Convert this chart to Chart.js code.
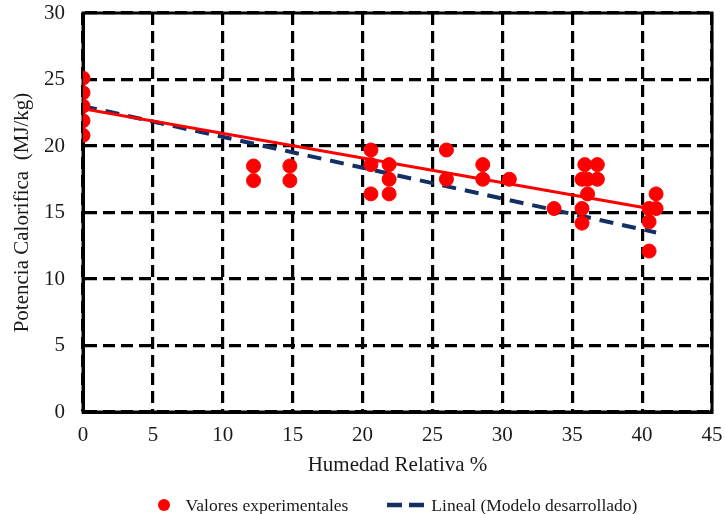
<!DOCTYPE html>
<html>
<head>
<meta charset="utf-8">
<script src="https://cdn.jsdelivr.net/npm/chart.js@4.4.0/dist/chart.umd.min.js"></script>
<style>
  html,body{margin:0;padding:0;background:#fff;}
  #wrap{position:relative;width:725px;height:514px;}
  #legend{position:absolute;left:83px;width:629px;top:494px;height:22px;
          display:flex;justify-content:center;align-items:center;
          font-family:'Liberation Serif','DejaVu Serif',serif;font-size:17.5px;color:#1a1a1a;white-space:nowrap;}
  #legend .item{display:flex;align-items:center;}
  #legend .item + .item{margin-left:39px;}
  #legend .dot{width:12px;height:12px;border-radius:50%;margin-right:16px;}
  #legend svg{margin-right:7px;}
</style>
</head>
<body>
<div id="wrap">
  <canvas id="chart" width="725" height="514"></canvas>
  <div id="legend"></div>
</div>
<script>
/* ---- datos ---- */
const humedad  = [0,0,0,0,0, 12.2,12.2, 14.8,14.8, 20.6,20.6,20.6, 21.9,21.9,21.9,
                  26.0,26.0, 28.6,28.6, 30.5, 33.7, 35.7,35.7,35.7, 35.9,36.1,36.1,
                  36.8,36.8, 40.5,40.5,40.5, 41.0,41.0];
const potencia = [25.1,24.0,23.0,21.9,20.8, 18.5,17.4, 18.5,17.4, 19.7,18.6,16.4, 18.6,17.5,16.4,
                  19.7,17.5, 18.6,17.5, 17.5, 15.3, 17.5,15.3,14.2, 18.6,17.5,16.4,
                  18.6,17.5, 15.3,14.3,12.1, 16.4,15.3];

// tendencia de los datos experimentales (roja)
const tendX = [0, 40.5];
const tendY = [22.8, 15.3];
// modelo desarrollado (azul discontinuo)
const modeloX = [0, 41.0];
const modeloY = [23.0, 13.5];

const xTicks = [0,5,10,15,20,25,30,35,40,45];
const yTicks = [0,5,10,15,20,25,30];

const pts = (xs,ys)=>xs.map((x,i)=>({x, y:ys[i]}));

const ROJO = '#ff0000', AZUL = '#132f64';
const serif = "'Liberation Serif', 'DejaVu Serif', serif";

/* ---- marco ---- */
const frame = {
  id:'frame',
  beforeDatasetsDraw(c){
    const a=c.chartArea, g=c.ctx;
    g.save();
    g.strokeStyle='#000'; g.lineWidth=3;
    g.strokeRect(a.left, a.top, a.right-a.left, a.bottom-a.top);
    g.restore();
  }
};

const chart = new Chart(document.getElementById('chart'),{
  type:'scatter',
  data:{
    datasets:[
      { label:'Valores experimentales', data:pts(humedad,potencia),
        backgroundColor:ROJO, borderColor:ROJO, pointRadius:7, pointHoverRadius:7, order:1 },
      { label:'Tendencia', type:'line', data:pts(tendX,tendY), showLine:true,
        borderColor:ROJO, borderWidth:3, pointRadius:0, order:2 },
      { label:'Lineal (Modelo desarrollado)', type:'line', data:pts(modeloX,modeloY), showLine:true,
        borderColor:AZUL, backgroundColor:AZUL, borderWidth:4, borderDash:[14,9], pointRadius:0, order:3 }
    ]
  },
  options:{
    responsive:false,
    animation:false,
    layout:{ padding:{ top:13, right:13, left:0, bottom:0 } },
    scales:{
      x:{
        type:'linear', min:0, max:45,
        afterBuildTicks:s=>{ s.ticks = xTicks.map(v=>({value:v})); },
        afterFit:s=>{ s.height = 102; s.paddingLeft = 0; s.paddingRight = 0; },
        grid:{ color:'#000', lineWidth:3.2, drawTicks:false },
        border:{ display:true, color:'#000', width:3, dash:[12,6] },
        ticks:{ font:{ family:serif, size:21 }, color:'#1a1a1a', padding:11 },
        title:{ display:true, text:'Humedad Relativa %', font:{ family:serif, size:21 }, color:'#1a1a1a', padding:{top:0,bottom:36} }
      },
      y:{
        type:'linear', min:0, max:30,
        afterBuildTicks:s=>{ s.ticks = yTicks.map(v=>({value:v})); },
        afterFit:s=>{ s.width = 83; s.paddingTop = 0; s.paddingBottom = 0; },
        grid:{ color:'#000', lineWidth:3.2, drawTicks:false },
        border:{ display:true, color:'#000', width:3, dash:[12,6] },
        ticks:{ font:{ family:serif, size:21 }, color:'#1a1a1a', padding:18 },
        title:{ display:true, text:'Potencia Calorifica  (MJ/kg)', font:{ family:serif, size:21 }, color:'#1a1a1a', padding:{top:10,bottom:0} }
      }
    },
    plugins:{
      legend:{ display:false },
      tooltip:{ enabled:false }
    }
  },
  plugins:[frame]
});

/* ---- leyenda HTML ---- */
const leg = document.getElementById('legend');
chart.data.datasets.filter(d=>d.label!=='Tendencia').forEach(d=>{
  const it = document.createElement('span');
  it.className = 'item';
  if(!d.borderDash){
    const dot = document.createElement('span');
    dot.className = 'dot';
    dot.style.background = d.backgroundColor;
    it.appendChild(dot);
  } else {
    it.insertAdjacentHTML('beforeend',
      `<svg width="37" height="6"><line x1="0" y1="3" x2="37" y2="3" stroke="${d.borderColor}" stroke-width="4.5" stroke-dasharray="15 7"/></svg>`);
  }
  const t = document.createElement('span');
  t.textContent = d.label;
  it.appendChild(t);
  leg.appendChild(it);
});
</script>
</body>
</html>
